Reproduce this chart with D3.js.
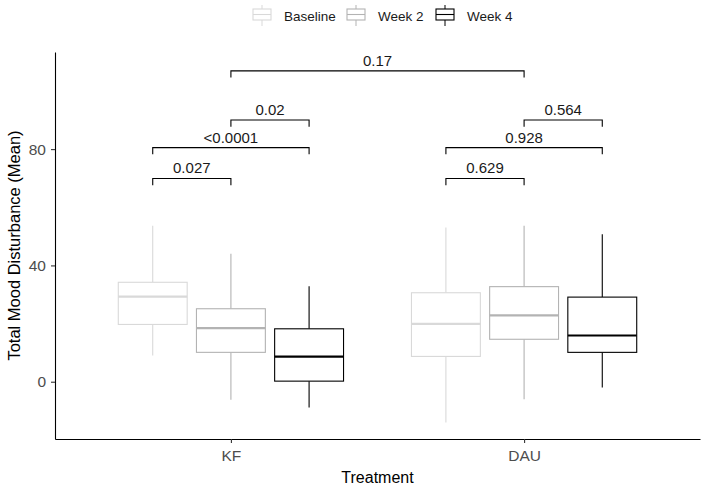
<!DOCTYPE html>
<html>
<head>
<meta charset="utf-8">
<script src="https://cdn.jsdelivr.net/npm/d3@7"></script>
<style>
  body { margin: 0; background: #fff; }
  text { font-family: "Liberation Sans", Arial, sans-serif; }
</style>
</head>
<body>
<div id="chart"></div>
<script>
// Data
var treatments = ["KF", "DAU"];
var visits = ["Baseline", "Week 2", "Week 4"];

// box stats per treatment, one entry per visit
var whiskerLow  = [[9.0, -6.2, -8.9], [-14.0, -6.0, -2.0]];
var lowerQ      = [[19.7, 10.1, 0.2], [8.7, 14.6, 10.1]];
var medianVals  = [[29.3, 18.4, 8.6], [19.9, 22.8, 15.9]];
var upperQ      = [[34.2, 25.1, 18.2], [30.6, 32.7, 29.1]];
var whiskerHigh = [[53.6, 44.0, 32.8], [53.0, 53.6, 50.7]];

// p-value brackets: [treatment, visit] start and end, height in data units
var pLabels = ["0.027", "<0.0001", "0.02", "0.629", "0.928", "0.564", "0.17"];
var pFrom   = [[0, 0], [0, 0], [0, 1], [1, 0], [1, 0], [1, 1], [0, 1]];
var pTo     = [[0, 1], [0, 2], [0, 2], [1, 1], [1, 2], [1, 2], [1, 1]];
var pHeight = [69.9, 80.5, 90.0, 69.9, 80.5, 90.0, 106.9];

var yTicks = [0, 40, 80];

var width = 703, height = 491;
var margin = {left: 55, right: 3, top: 52, bottom: 52};

var colors = d3.scaleOrdinal().domain(visits).range(["#d9d9d9", "#b3b3b3", "#000000"]);

var svg = d3.select("#chart").append("svg")
  .attr("width", width)
  .attr("height", height);

var x = d3.scaleLinear()
  .domain([0.4, 2.6])
  .range([margin.left, width - margin.right]);

var y = d3.scaleLinear()
  .domain([-19.7, 113.4])
  .range([height - margin.bottom, margin.top]);

var dodge = d3.scaleBand().domain(visits).range([-0.4, 0.4]);
var boxW = 0.235;

function xPos(t, v) {
  return x(t + 1 + dodge(visits[v]) + dodge.bandwidth() / 2);
}

// boxes
var rows = [];
treatments.forEach(function(t, ti) {
  visits.forEach(function(v, vi) {
    rows.push({t: ti, v: vi, lo: whiskerLow[ti][vi], q1: lowerQ[ti][vi],
      med: medianVals[ti][vi], q3: upperQ[ti][vi], hi: whiskerHigh[ti][vi]});
  });
});

var boxes = svg.append("g").selectAll("g")
  .data(rows)
  .enter()
  .append("g")
  .attr("stroke", function(d) { return colors(visits[d.v]); })
  .attr("fill", "white");

boxes.append("line")
  .attr("x1", function(d) { return xPos(d.t, d.v); })
  .attr("x2", function(d) { return xPos(d.t, d.v); })
  .attr("y1", function(d) { return y(d.hi); })
  .attr("y2", function(d) { return y(d.q3); })
  .attr("stroke-width", 1.1);

boxes.append("line")
  .attr("x1", function(d) { return xPos(d.t, d.v); })
  .attr("x2", function(d) { return xPos(d.t, d.v); })
  .attr("y1", function(d) { return y(d.q1); })
  .attr("y2", function(d) { return y(d.lo); })
  .attr("stroke-width", 1.1);

boxes.append("rect")
  .attr("x", function(d) { return xPos(d.t, d.v) - (x(boxW) - x(0)) / 2; })
  .attr("width", x(boxW) - x(0))
  .attr("y", function(d) { return y(d.q3); })
  .attr("height", function(d) { return y(d.q1) - y(d.q3); })
  .attr("stroke-width", 1.1);

boxes.append("line")
  .attr("x1", function(d) { return xPos(d.t, d.v) - (x(boxW) - x(0)) / 2; })
  .attr("x2", function(d) { return xPos(d.t, d.v) + (x(boxW) - x(0)) / 2; })
  .attr("y1", function(d) { return y(d.med); })
  .attr("y2", function(d) { return y(d.med); })
  .attr("stroke-width", 2.2);

// brackets
var tickLen = 2.3;
var br = svg.append("g").selectAll("g")
  .data(pLabels)
  .enter()
  .append("g");

br.append("path")
  .attr("fill", "none")
  .attr("stroke", "black")
  .attr("stroke-width", 1.1)
  .attr("d", function(d, i) {
    var x1 = xPos(pFrom[i][0], pFrom[i][1]), x2 = xPos(pTo[i][0], pTo[i][1]);
    return "M" + x1 + "," + y(pHeight[i] - tickLen) + "V" + y(pHeight[i]) +
      "H" + x2 + "V" + y(pHeight[i] - tickLen);
  });

br.append("text")
  .attr("x", function(d, i) { return (xPos(pFrom[i][0], pFrom[i][1]) + xPos(pTo[i][0], pTo[i][1])) / 2; })
  .attr("y", function(d, i) { return y(pHeight[i]) - 5; })
  .attr("text-anchor", "middle")
  .style("font-size", "15px")
  .attr("fill", "#1a1a1a")
  .text(function(d) { return d; });

// axes
var yAxis = svg.append("g")
  .attr("transform", "translate(" + margin.left + ",0)")
  .call(d3.axisLeft(y).tickValues(yTicks).tickSize(4).tickSizeOuter(0).tickPadding(5));
var xAxis = svg.append("g")
  .attr("transform", "translate(0," + (height - margin.bottom) + ")")
  .call(d3.axisBottom(x).tickValues([1, 2]).tickFormat(function(d) { return treatments[d - 1]; })
    .tickSize(4).tickSizeOuter(0).tickPadding(7));

[yAxis, xAxis].forEach(function(a) {
  a.select(".domain").attr("stroke", "black").attr("stroke-width", 1.1);
  a.selectAll(".tick line").attr("stroke", "#333").attr("stroke-width", 1.1);
  a.selectAll(".tick text").attr("fill", "#4d4d4d")
    .style("font-size", "15.5px")
    .style("font-family", "Liberation Sans, Arial, sans-serif");
});

svg.append("text")
  .attr("x", (margin.left + width - margin.right) / 2)
  .attr("y", 483)
  .attr("text-anchor", "middle")
  .style("font-size", "16px")
  .text("Treatment");

svg.append("text")
  .attr("transform", "translate(20," + ((margin.top + height - margin.bottom) / 2) + ") rotate(-90)")
  .attr("text-anchor", "middle")
  .style("font-size", "16.5px")
  .text("Total Mood Disturbance (Mean)");

// legend
var legendX = [252, 346, 435];
var leg = svg.append("g").selectAll("g")
  .data(visits)
  .enter()
  .append("g")
  .attr("transform", function(d, i) { return "translate(" + legendX[i] + ",0)"; });

leg.append("line")
  .attr("x1", 10).attr("x2", 10).attr("y1", 5).attr("y2", 26)
  .attr("stroke", function(d) { return colors(d); });
leg.append("rect")
  .attr("x", 1).attr("width", 18).attr("y", 9).attr("height", 11)
  .attr("fill", "white")
  .attr("stroke", function(d) { return colors(d); })
  .attr("stroke-width", 1.1);
leg.append("line")
  .attr("x1", 1).attr("x2", 19).attr("y1", 14.5).attr("y2", 14.5)
  .attr("stroke", function(d) { return colors(d); })
  .attr("stroke-width", 1.1);
leg.append("text")
  .attr("x", 32)
  .attr("y", 20.5)
  .style("font-size", "13.5px")
  .attr("fill", "#1a1a1a")
  .text(function(d) { return d; });
</script>
</body>
</html>
